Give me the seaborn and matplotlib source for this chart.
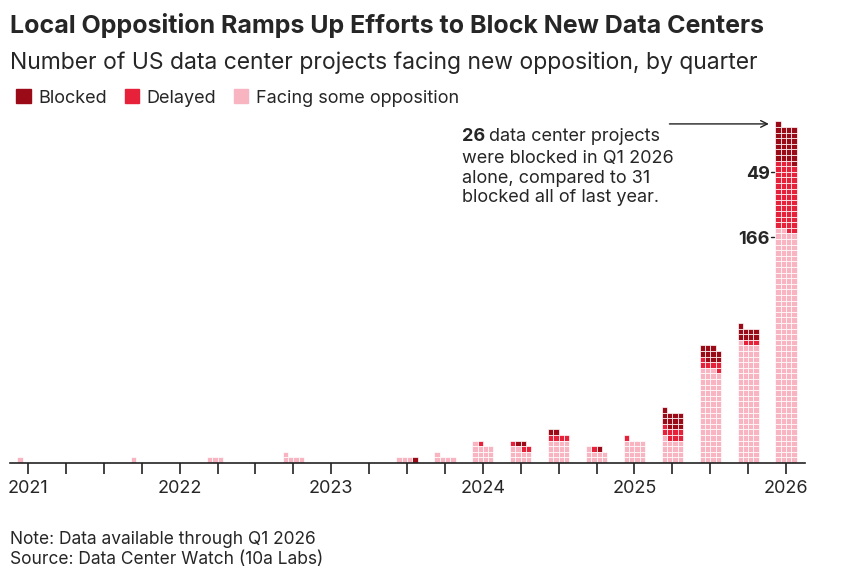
import numpy as np
import pandas as pd
import seaborn as sns
from matplotlib import pyplot as plt
from matplotlib.patches import Patch

# quarters 2021 Q1 .. 2026 Q1
quarters = [f"{y} Q{q}" for y in range(2021, 2027) for q in range(1, 5)][:21]
facing = [1, 0, 0, 1, 0, 3, 0, 5, 0, 0, 3, 5, 13, 10, 16, 9, 16, 17, 67, 85, 166]
delayed = [0, 0, 0, 0, 0, 0, 0, 0, 0, 0, 0, 0, 1, 3, 4, 1, 1, 8, 6, 3, 49]
blocked = [0, 0, 0, 0, 0, 0, 0, 0, 0, 0, 1, 0, 0, 2, 2, 1, 0, 12, 10, 9, 26]

colors = {"Blocked": "#9b0a17", "Delayed": "#e8213a", "Facing some opposition": "#f8b4c0"}

# one row per waffle cell, filled bottom-up, left to right
rows = []
for qi in range(len(quarters)):
    seq = (["Facing some opposition"] * facing[qi] + ["Delayed"] * delayed[qi]
           + ["Blocked"] * blocked[qi])
    for k, cat in enumerate(seq):
        rows.append({"q": qi, "col": k % 4, "row": k // 4, "cat": cat})
cells = pd.DataFrame(rows)

sns.set_theme(style="white")
plt.rcParams["font.family"] = ["Inter", "DejaVu Sans"]

fig = plt.figure(figsize=(8.46, 5.74), dpi=100)
ax = fig.add_axes([10 / 846, 1 - 463 / 574, 795 / 846, 343 / 574])

cw = 0.14
for cat, g in cells.groupby("cat"):
    ax.bar(g["q"] - 2 * cw + g["col"] * cw, 1, bottom=g["row"], width=cw, align="edge",
           color=colors[cat], edgecolor="white", linewidth=0.5)

ax.set_xlim(-0.475, 20.5)
ax.set_ylim(0, 61.25)
sns.despine(ax=ax, left=True, top=True, right=True)
ax.spines["bottom"].set_color("#222222")
ax.spines["bottom"].set_linewidth(1.2)
ax.set_yticks([])
ax.set_xticks(range(21))
ax.set_xticklabels([quarters[i][:4] if i % 4 == 0 else "" for i in range(21)], fontsize=13)
ax.tick_params(axis="x", direction="out", length=8, width=1.2, color="#222222", pad=4, bottom=True)

# segment labels on last bar
tot_f = facing[-1] / 4
tot_d = (facing[-1] + delayed[-1]) / 4
ax.text(20 - 0.42, tot_f - 1.6, str(facing[-1]), ha="right", va="center", fontsize=13, fontweight="bold")
ax.text(20 - 0.42, tot_d - 2.3, str(delayed[-1]), ha="right", va="center", fontsize=13, fontweight="bold")
ax.plot([20 - 0.41, 20 - 0.32], [tot_f - 1.1, tot_f - 1.1], color="#222222", lw=1)
ax.plot([20 - 0.41, 20 - 0.32], [tot_d - 1.8, tot_d - 1.8], color="#222222", lw=1)

top = (facing[-1] + delayed[-1] + blocked[-1]) / 4
ax.annotate("", xy=(20 - 0.38, top + 0.3), xytext=(16.85, top + 0.3),
            arrowprops=dict(arrowstyle="->", color="#222222", lw=1))

t26 = fig.text(462 / 846, 1 - 128 / 574, "26", fontsize=13, fontweight="bold", va="top")
fig.canvas.draw()
w = t26.get_window_extent().width
fig.text((462 + w + 4) / 846, 1 - 128 / 574, "data center projects", fontsize=13, va="top")
fig.text(462 / 846, 1 - 150 / 574, "were blocked in Q1 2026\nalone, compared to 31\nblocked all of last year.",
         fontsize=13, va="top", linespacing=1.2)

fig.text(10 / 846, 1 - 26 / 574, "Local Opposition Ramps Up Efforts to Block New Data Centers",
         fontsize=18, fontweight="bold", va="center")
fig.text(10 / 846, 1 - 63 / 574, "Number of US data center projects facing new opposition, by quarter",
         fontsize=16.5, va="center")

handles = [Patch(color=colors[c], label=c) for c in colors]
fig.legend(handles=handles, loc="center left", bbox_to_anchor=(0 / 846, 1 - 98 / 574), ncol=3,
           frameon=False, fontsize=13, handlelength=0.8, handleheight=0.8, handletextpad=0.4,
           columnspacing=1.0)

fig.text(10 / 846, 1 - 539 / 574, "Note: Data available through Q1 2026", fontsize=12.5, va="center")
fig.text(10 / 846, 1 - 560 / 574, "Source: Data Center Watch (10a Labs)", fontsize=12.5, va="center")

fig.savefig("out.png", dpi=100)
